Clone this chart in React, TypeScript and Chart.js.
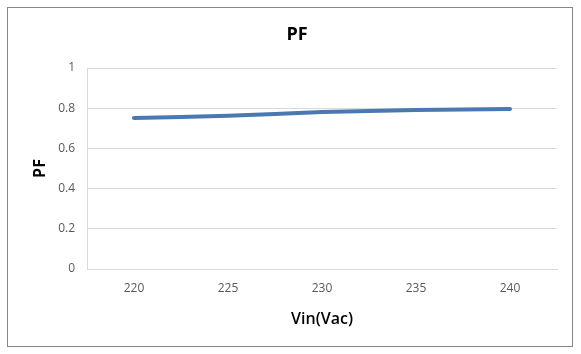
import React, { useEffect, useRef } from "react";
import { Chart, registerables } from "chart.js";

Chart.register(...registerables);

const chartTitle = "PF";
const categories = ["220", "225", "230", "235", "240"];
const pfValues = [0.751, 0.762, 0.781, 0.791, 0.796];
const yTicks = [0, 0.2, 0.4, 0.6, 0.8, 1];

const FONT = "'Open Sans', 'Liberation Sans', sans-serif";

const titlePlugin = {
  id: "centeredTitle",
  afterDraw(chart: any) {
    const ctx = chart.ctx;
    ctx.save();
    ctx.font = `bold 18px ${FONT}`;
    ctx.fillStyle = "#000000";
    ctx.textAlign = "center";
    ctx.textBaseline = "middle";
    ctx.fillText(chartTitle, 297, 35);
    ctx.restore();
  },
};

export default function App() {
  const ref = useRef<HTMLCanvasElement | null>(null);

  useEffect(() => {
    if (!ref.current) return;
    const chart = new Chart(ref.current, {
      type: "line",
      data: {
        labels: categories,
        datasets: [
          {
            label: "PF",
            data: pfValues,
            borderColor: "#4a78b0",
            borderWidth: 4,
            borderCapStyle: "round",
            borderJoinStyle: "round",
            pointRadius: 0,
            tension: 0.15,
            fill: false,
          },
        ],
      },
      options: {
        animation: false,
        responsive: false,
        maintainAspectRatio: false,
        layout: { padding: { left: 0, right: 24, top: 68, bottom: 0 } },
        plugins: {
          legend: { display: false },
          tooltip: { enabled: false },
          title: { display: false },
        },
        scales: {
          x: {
            type: "category",
            offset: true,
            afterFit: (s: any) => {
              s.height = 85;
            },
            grid: { display: false, drawTicks: false },
            border: { display: true, color: "#d9d9d9", width: 1 },
            ticks: {
              color: "#595959",
              padding: 12,
              font: { family: FONT, size: 12 },
              maxRotation: 0,
            },
            title: {
              display: true,
              text: "Vin(Vac)",
              color: "#000000",
              font: { family: FONT, size: 16, weight: 600, lineHeight: 1.2 },
              padding: { top: 0, bottom: 25 },
            },
          },
          y: {
            min: 0,
            max: 1,
            afterFit: (s: any) => {
              s.width = 87;
            },
            afterBuildTicks: (s: any) => {
              s.ticks = yTicks.map((v) => ({ value: v }));
            },
            grid: { color: "#d9d9d9", drawTicks: false, lineWidth: 1 },
            border: { display: true, color: "#d9d9d9", width: 1 },
            ticks: {
              color: "#595959",
              padding: 12,
              font: { family: FONT, size: 12 },
              callback: (v: any) => String(Math.round(Number(v) * 10) / 10),
            },
            title: {
              display: true,
              text: "PF",
              color: "#000000",
              font: { family: FONT, size: 16, weight: "bold", lineHeight: 1.2 },
              padding: { top: 31, bottom: 0 },
            },
          },
        },
      },
      plugins: [titlePlugin],
    });
    return () => chart.destroy();
  }, []);

  return (
    <div
      style={{
        position: "fixed",
        left: 0,
        top: 0,
        width: 581,
        height: 354,
        background: "#ffffff",
      }}
    >
      <canvas
        ref={ref}
        width={581}
        height={354}
        style={{ position: "absolute", left: 0, top: 0, display: "block" }}
      />
      <div
        style={{
          position: "absolute",
          left: 7,
          top: 7,
          width: 564,
          height: 338,
          border: "1px solid #868686",
          pointerEvents: "none",
        }}
      />
    </div>
  );
}
